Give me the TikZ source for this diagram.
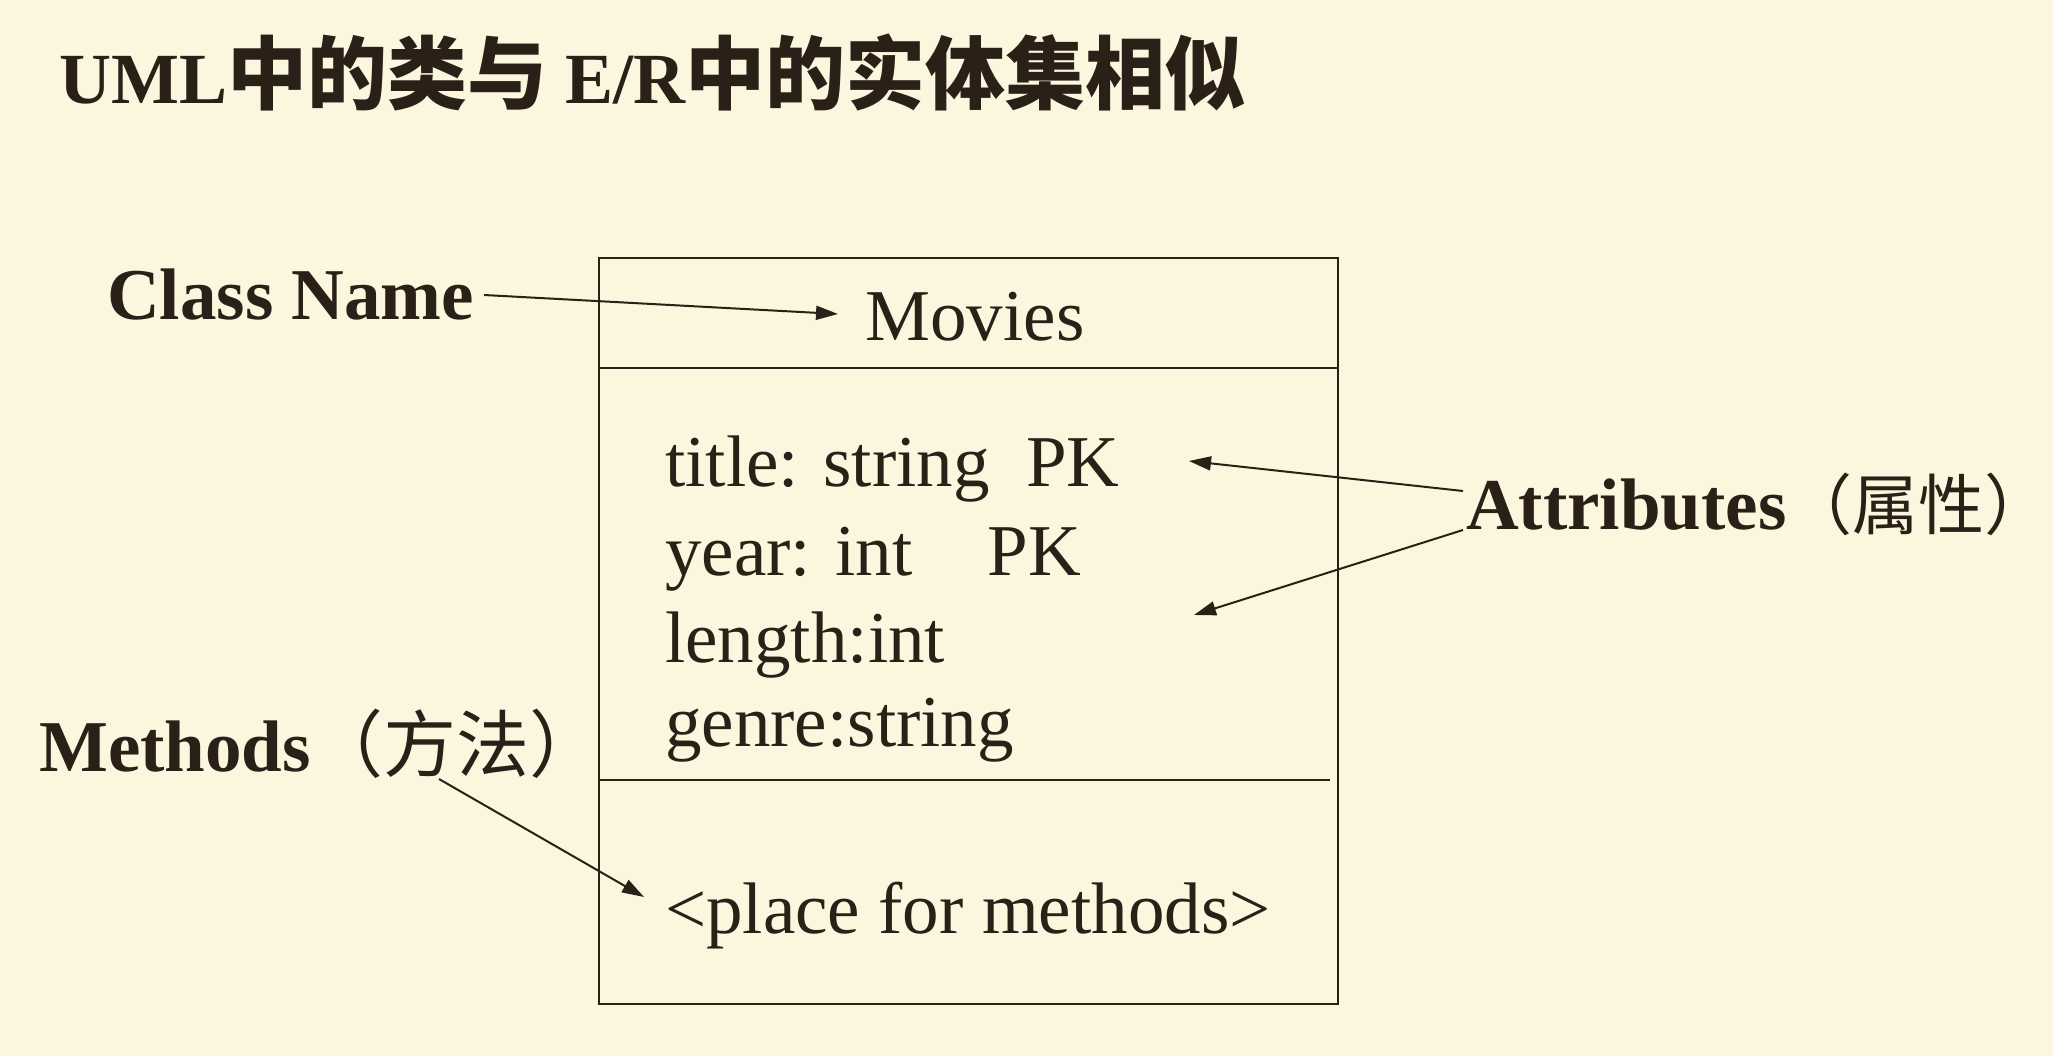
\documentclass[tikz,border=0pt]{standalone}
\usepackage{fontspec}
\setmainfont{Liberation Serif}
\newfontfamily\cjk{Noto Sans CJK SC}
\usetikzlibrary{arrows.meta}
\definecolor{bg}{HTML}{FBF6DE}
\definecolor{ink}{HTML}{2A2018}
\tikzset{
  body/.style={anchor=west,inner sep=0pt,font=\fontsize{73pt}{80pt}\selectfont,text=ink},
  lbl/.style={anchor=west,inner sep=0pt,font=\fontsize{73pt}{80pt}\selectfont\bfseries,text=ink},
  arr/.style={draw=ink,line width=2pt,-{Triangle[length=22pt,width=14pt]}},
  frame/.style={draw=ink,line width=1.8pt}
}
\newcommand{\bigcjk}[1]{{\fontsize{80pt}{88pt}\selectfont\cjk\bfseries #1}}
\begin{document}
\begin{tikzpicture}[x=1pt,y=1pt]
\fill[bg] (0,0) rectangle (2053,-1056);
\useasboundingbox (0,0) rectangle (2053,-1056);
\node[anchor=west,inner sep=0pt,text=ink] (title) at (59,-72) {\fontsize{72pt}{80pt}\selectfont\bfseries UML\bigcjk{中的类与} E/R\bigcjk{中的实体集相似}};
\node[frame,minimum width=739pt,minimum height=746pt,anchor=north west,inner sep=0pt] (box) at (598,-257) {};
\coordinate (l1a) at (598,-368); \coordinate (l1b) at (1337,-368);
\coordinate (l2a) at (598,-780); \coordinate (l2b) at (1330,-780);
\draw[frame] (l1a) -- (l1b);
\draw[frame] (l2a) -- (l2b);
\node[body,anchor=center] (movies) at (975,-317) {Movies};
\node[body] (t1) at (665,-469) {title: string\ \ PK};
\node[body] (t2) at (665,-559) {year: int\hspace{75pt}PK};
\node[body] (t3) at (665,-645) {length:int};
\node[body] (t4) at (665,-730) {genre:string};
\node[body] (t5) at (665,-916) {<place for methods>};
\node[lbl] (cn) at (107,-295) {Class Name};
\node[lbl] (at) at (1466,-504) {Attributes{\cjk\mdseries\fontsize{66pt}{72pt}\selectfont （属性）}};
\node[lbl] (me) at (39,-744) {Methods{\cjk\mdseries （方法）}};
\coordinate (cs) at (484,-295); \coordinate (ce) at (838,-314);
\coordinate (as1) at (1463,-491); \coordinate (ae1) at (1189,-461);
\coordinate (as2) at (1463,-530); \coordinate (ae2) at (1194,-615);
\coordinate (ms) at (439,-779); \coordinate (mee) at (644,-897);
\draw[arr] (cs) -- (ce);
\draw[arr] (as1) -- (ae1);
\draw[arr] (as2) -- (ae2);
\draw[arr] (ms) -- (mee);
\end{tikzpicture}
\end{document}
